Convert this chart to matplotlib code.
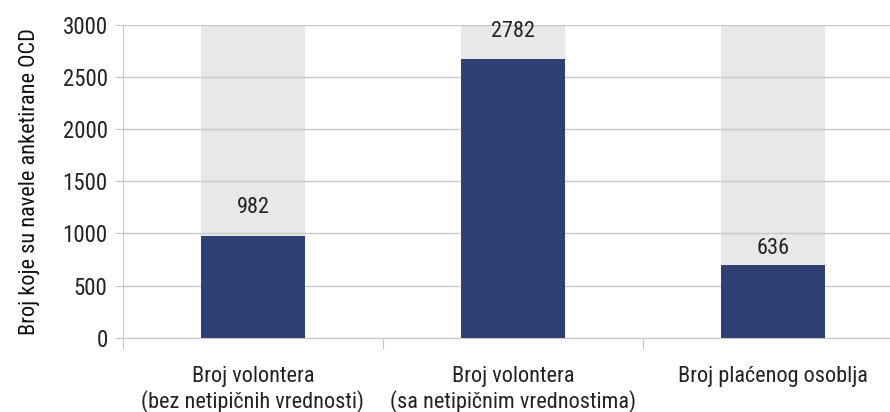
import numpy as np
import matplotlib
matplotlib.use("Agg")
import matplotlib.pyplot as plt

# data
categories = ["Broj volontera\n(bez netipičnih vrednosti)",
              "Broj volontera\n(sa netipičnim vrednostima)",
              "Broj plaćenog osoblja"]
bar_values = [975, 2670, 700]        # drawn bar heights
label_values = ["982", "2782", "636"]  # printed labels
label_y = [1250, 2935, 860]           # where the labels sit
background = [3000, 3000, 3000]

plt.rcParams['font.family'] = ['Roboto Condensed', 'Roboto', 'DejaVu Sans']
plt.rcParams['font.stretch'] = 'condensed'

fig = plt.figure(figsize=(8.9, 4.12), dpi=100)
ax = fig.add_axes([0.138, 0.18, 0.877, 0.76])

x = np.arange(len(categories))
w = 0.40
ax.bar(x, background, width=w, color="#e8e8e8", zorder=1)
ax.bar(x, bar_values, width=w, color="#2f4173", zorder=3)
for xi, txt, yy in zip(x, label_values, label_y):
    ax.text(xi, yy, txt, ha="center", va="center", fontsize=16, color="#222222", zorder=4)

ax.set_ylim(0, 3000)
ax.set_xlim(-0.5, 2.5)
ax.set_yticks(np.arange(0, 3001, 500))
ax.yaxis.grid(True, color="#c8c8c8", linewidth=1, zorder=2)
ax.set_axisbelow(False)

ax.set_xticks([-0.5, 0.5, 1.5, 2.5])
ax.set_xticklabels([])
ax.set_xticks(x, minor=True)
ax.set_xticklabels(categories, minor=True, fontsize=16, color="#222222")
ax.tick_params(axis="x", which="minor", length=0, pad=20)
ax.tick_params(axis="x", which="major", length=8, color="#c8c8c8")
ax.tick_params(axis="y", length=6, color="#c8c8c8", labelsize=16.5, labelcolor="#222222", pad=5)

for s in ["top", "right"]:
    ax.spines[s].set_visible(False)
ax.spines["left"].set_color("#c8c8c8")
ax.spines["bottom"].set_color("#c8c8c8")

ax.set_ylabel("Broj koje su navele anketirane OCD", fontsize=16, color="#111111", labelpad=16)

fig.savefig("out.png", dpi=100)
